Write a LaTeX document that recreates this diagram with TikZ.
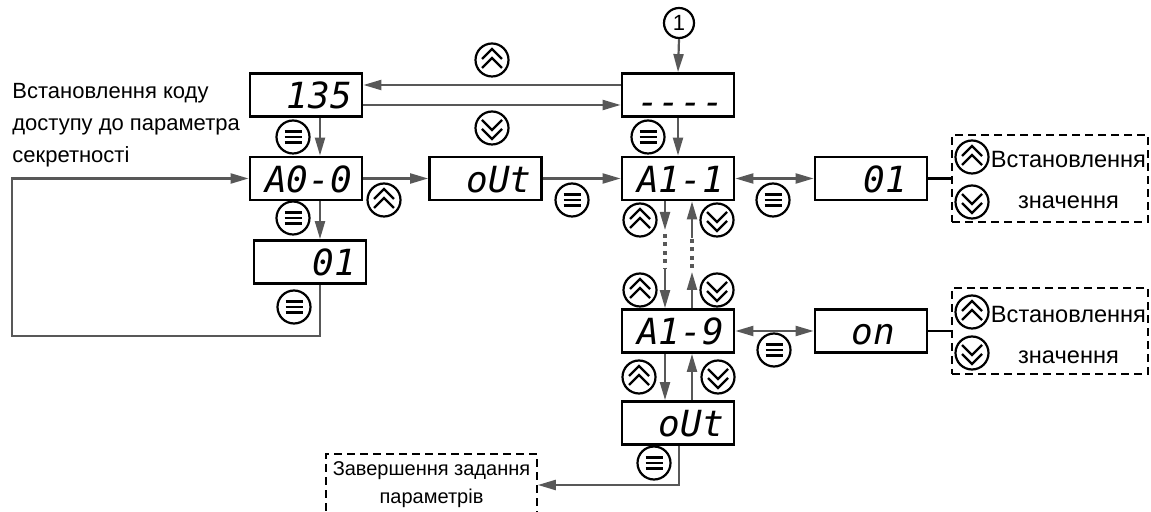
\documentclass[tikz,border=0pt]{standalone}
\usepackage{fontspec}
\setmainfont{Liberation Sans}
\newfontfamily\segfont{DejaVu Sans Mono}
\usetikzlibrary{arrows.meta, positioning}
\definecolor{linegray}{RGB}{88,88,88}

\begin{document}
\begin{tikzpicture}[
x=0.5pt, y=-0.5pt,
font=\fontsize{11}{16}\selectfont,
disp/.style={rectangle, draw=black, line width=1.4pt, minimum width=56pt, minimum height=21.5pt, inner xsep=5pt, inner ysep=1pt, text width=46pt, align=right, text height=14pt, text depth=0pt, font=\segfont\itshape\fontsize{18}{18}\selectfont},
btn/.style={circle, draw=black, line width=1.1pt, minimum size=16.5pt, inner sep=0pt},
menubtn/.style={btn, path picture={\draw[line width=1.2pt, shift={(path picture bounding box.center)}] (-8.5,-5.5) -- (8.5,-5.5) (-8.5,0) -- (8.5,0) (-8.5,5.5) -- (8.5,5.5);}},
upbtn/.style={btn, path picture={\draw[line width=1.2pt, shift={(path picture bounding box.center)}] (-10,-1) -- (0,-11) -- (10,-1) (-10,8) -- (0,-2) -- (10,8);}},
downbtn/.style={btn, path picture={\draw[line width=1.2pt, shift={(path picture bounding box.center)}] (-10,1) -- (0,11) -- (10,1) (-10,-8) -- (0,2) -- (10,-8);}},
dashbox/.style={rectangle, draw=black, line width=0.9pt, dash pattern=on 4pt off 2.5pt},
valtext/.style={align=center, inner sep=0pt, font=\fontsize{11.8}{20.5}\selectfont},
arr/.style={-{Triangle[length=9pt, width=5pt]}, line width=1.1pt, draw=linegray},
arrs/.style={{Triangle[length=9pt, width=5pt]}-{Triangle[length=9pt, width=5pt]}, line width=1.1pt, draw=linegray},
plain/.style={line width=1.1pt, draw=black},
dotline/.style={line width=1.6pt, draw=linegray, dash pattern=on 2pt off 2.2pt, dash phase=2.2pt}
]
\useasboundingbox (0,0) rectangle (1151,512);

% displays
\node[disp] (p135) at (306,95) {135};
\node[disp] (a00) at (306,178.5) {A0-0};
\node[disp] (v01) at (310,262) {01};
\node[disp] (out1) at (485.5,178.5) {oUt};
\node[disp] (dash) at (678,95) {\raisebox{-3pt}{----}};
\node[disp] (a11) at (678,178.5) {A1-1};
\node[disp] (r01) at (871,178.5) {01\hspace*{5pt}\mbox{}};
\node[disp] (a19) at (678,331) {A1-9};
\node[disp] (ron) at (871,331) {on\hspace*{11pt}\mbox{}};
\node[disp] (out2) at (678,423) {oUt};

% notes
\node[anchor=west, align=left, inner sep=0pt] (note) at (12,125) {Встановлення коду\\доступу до параметра\\секретності};
\node[dashbox, minimum width=98pt, minimum height=43.5pt] (db1) at (1050,178.5) {};
\node[valtext] (val1) at (1068.5,180.5) {Встановлення\\значення};
\node[dashbox, minimum width=98pt, minimum height=43pt] (db2) at (1050,331) {};
\node[valtext] (val2) at (1068.5,335) {Встановлення\\значення};
\node[dashbox, minimum width=101.5pt, minimum height=31pt, align=center, font=\fontsize{10}{14}\selectfont] (fin) at (431.5,485) {Завершення задання\\параметрів};

% buttons
\node[menubtn] (m1) at (293,137) {};
\node[menubtn] (m2) at (293,218) {};
\node[menubtn] (m3) at (294,307) {};
\node[upbtn] (u1) at (492,60) {};
\node[downbtn] (d1) at (492,128) {};
\node[upbtn] (u2) at (384,200) {};
\node[menubtn] (m4) at (572,200) {};
\node[menubtn] (m5) at (648,137) {};
\node[btn, minimum size=15pt] (c1) at (679,23) {1};
\node[menubtn] (m6) at (773,200) {};
\node[upbtn] (u3) at (640,220) {};
\node[downbtn] (d3) at (717,220) {};
\node[upbtn] (u4) at (640,290) {};
\node[downbtn] (d4) at (717,290) {};
\node[menubtn] (m7) at (774,350) {};
\node[upbtn] (u5) at (639,377) {};
\node[downbtn] (d5) at (718,377) {};
\node[menubtn] (m8) at (654,463) {};
\node[upbtn] (u6) at (972,157) {};
\node[downbtn] (d6) at (972,202) {};
\node[upbtn] (u7) at (972,312) {};
\node[downbtn] (d7) at (972,353) {};

% free ends
\coordinate (loopL) at (12,336);
\coordinate (dn1) at (665,230);
\coordinate (dn2) at (665,268);
\coordinate (up1) at (692,272);
\coordinate (up2) at (692,238);

% connectors
\draw[arr] ([yshift=5pt]dash.west) -- ([yshift=5pt]p135.east);
\draw[arr] ([yshift=-5pt]p135.east) -- ([yshift=-5pt]dash.west);
\draw[arr] ([xshift=7pt]p135.south) -- ([xshift=7pt]a00.north);
\draw[arr] ([xshift=7pt]a00.south) -- ([xshift=7pt]a00.south |- v01.north);
\draw[arr] ([xshift=5pt]v01.south) |- (loopL) |- (a00.west);
\draw[arr] (a00.east) -- (out1.west);
\draw[arr] (out1.east) -- (a11.west);
\draw[arr] (c1.south) -- (dash.north);
\draw[arr] (dash.south) -- (a11.north);
\draw[arrs] (a11.east) -- (r01.west);
\draw[plain] (r01.east) -- (db1.west);
\draw[arr] ([xshift=-6.5pt]a11.south) -- (dn1);
\draw[dotline] (dn1) -- (dn2);
\draw[arr] (dn2) -- ([xshift=-6.5pt]a19.north);
\draw[arr] ([xshift=7pt]a19.north) -- (up1);
\draw[dotline] (up1) -- (up2);
\draw[arr] (up2) -- ([xshift=7pt]a11.south);
\draw[arr] ([xshift=-6.5pt]a19.south) -- ([xshift=-6.5pt]out2.north);
\draw[arr] ([xshift=7pt]out2.north) -- ([xshift=7pt]a19.south);
\draw[arrs] (a19.east) -- (ron.west);
\draw[plain] (ron.east) -- (db2.west);
\draw[arr] ([xshift=0.5pt]out2.south) |- (fin.east);
\end{tikzpicture}
\end{document}
